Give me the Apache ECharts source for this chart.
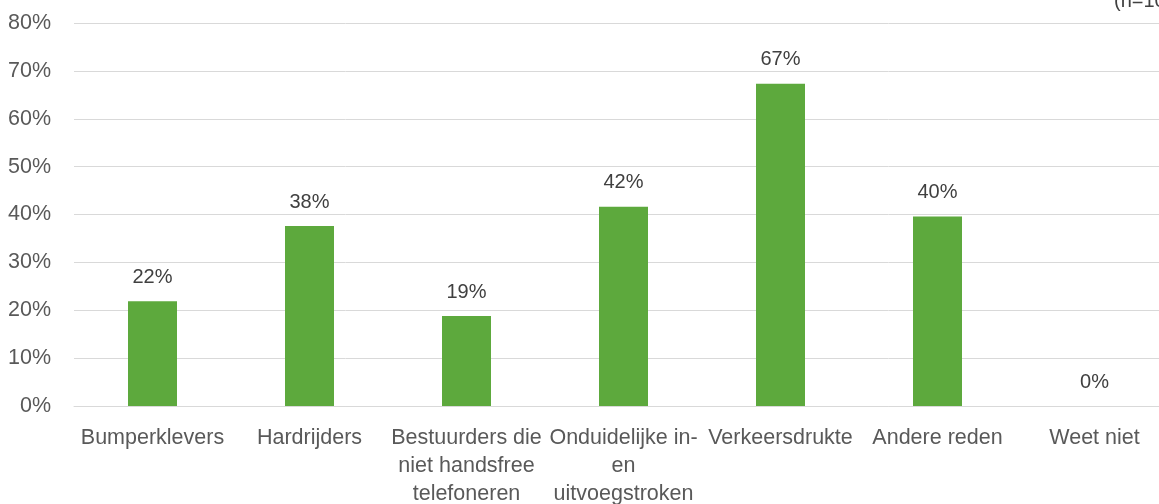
<!DOCTYPE html>
<html>
<head>
<meta charset="utf-8">
<script src="https://cdn.jsdelivr.net/npm/echarts@6/dist/echarts.min.js"></script>
<style>html,body{margin:0;padding:0;background:#fff}#c{width:1159px;height:504px}</style>
</head>
<body>
<div id="c"></div>
<script>
var categories = ['Bumperklevers', 'Hardrijders', 'Bestuurders die\nniet handsfree\ntelefoneren', 'Onduidelijke in-\nen\nuitvoegstroken', 'Verkeersdrukte', 'Andere reden', 'Weet niet'];
var values = [21.9, 37.6, 18.8, 41.6, 67.3, 39.6, 0];
var yTicks = [0, 10, 20, 30, 40, 50, 60, 70, 80];
var noteText = '(n=1000)';

var font = 'Liberation Sans, Arial, sans-serif';
var chart = echarts.init(document.getElementById('c'), null, {renderer: 'canvas'});
chart.setOption({
  animation: false,
  grid: {left: 74, right: -14, top: 23, bottom: 98, containLabel: false, outerBoundsMode: 'none'},
  xAxis: {
    type: 'category',
    data: categories,
    axisTick: {show: false},
    axisLine: {show: true, lineStyle: {color: '#d9d9d9', width: 1}},
    axisLabel: {color: '#595959', fontSize: 21.5, fontFamily: font, lineHeight: 28, margin: 18, interval: 0}
  },
  yAxis: {
    type: 'value',
    min: yTicks[0],
    max: yTicks[yTicks.length - 1],
    interval: 10,
    axisLine: {show: false},
    axisTick: {show: false},
    splitLine: {lineStyle: {color: '#d9d9d9', width: 1}},
    axisLabel: {color: '#595959', fontSize: 21.5, fontFamily: font, margin: 23, formatter: function (v) { return v + '%'; }}
  },
  series: [{
    type: 'bar',
    data: values,
    barWidth: 49,
    itemStyle: {color: '#5DA93D'},
    label: {
      show: true, position: 'top', distance: 14,
      color: '#404040', fontSize: 20, fontFamily: font,
      formatter: function (p) { return Math.round(p.value) + '%'; }
    }
  }],
  graphic: [{
    type: 'text', left: 1114, top: -9,
    style: {text: noteText, fill: '#404040', fontSize: 20, fontFamily: font}
  }]
});
</script>
</body>
</html>
